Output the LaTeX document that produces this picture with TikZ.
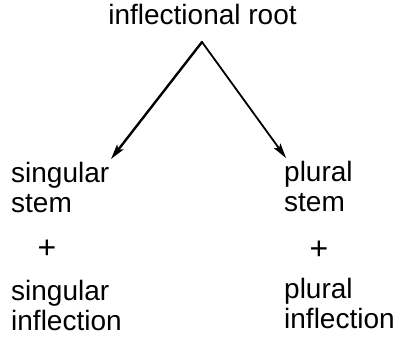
\documentclass[tikz,border=0pt]{standalone}
\usepackage{fontspec}
\setmainfont{Liberation Sans}
\usetikzlibrary{arrows.meta}
\begin{document}
\begin{tikzpicture}[x=1pt,y=-1pt,
  lbl/.style={inner sep=0pt, anchor=base west, align=left, font=\fontsize{28}{30}\selectfont},
  plus/.style={inner sep=0pt, anchor=center, font=\fontsize{32}{32}\selectfont},
  arr/.style={-{Stealth[length=15pt,width=8pt,inset=3pt]}, line cap=round}]
\useasboundingbox (0,0) rectangle (397,339);
\node[inner sep=0pt, anchor=base, font=\fontsize{28}{30}\selectfont] (root) at (202.5,25) {inflectional root};
\node[lbl] (sstem) at (11,213) {singular\\stem};
\node[plus] (splus) at (47,249) {+};
\node[lbl] (sinfl) at (11,331) {singular\\inflection};
\node[lbl] (pstem) at (284,212) {plural\\stem};
\node[plus] (pplus) at (319,250) {+};
\node[lbl] (pinfl) at (284,329) {plural\\inflection};
\coordinate (apex) at (202,42);
\coordinate (ltip) at (111,159);
\coordinate (rtip) at (286,158);
\draw[arr, line width=2.4pt] (apex) -- (ltip);
\draw[arr, line width=1.8pt] (apex) -- (rtip);
\end{tikzpicture}
\end{document}
